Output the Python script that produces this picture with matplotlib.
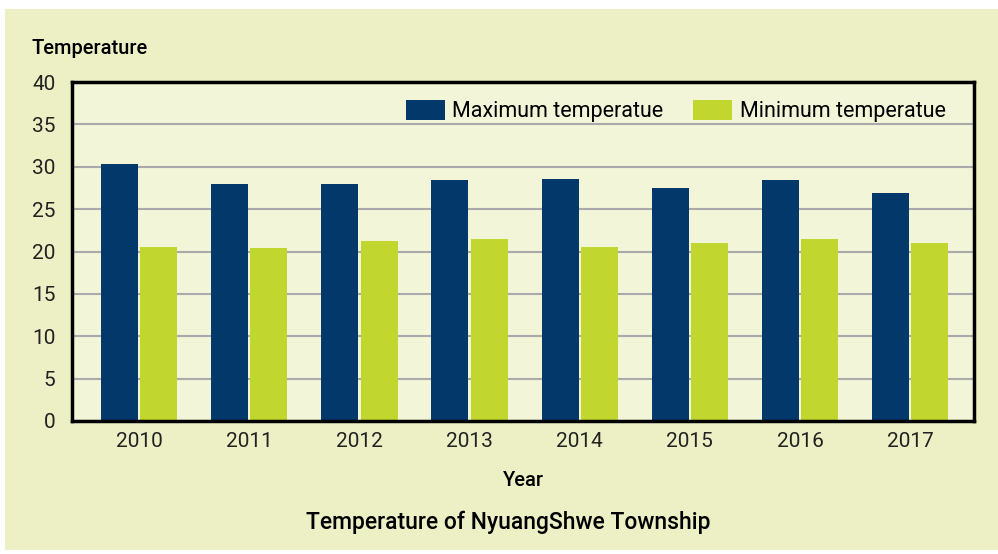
import matplotlib
matplotlib.use("Agg")
import matplotlib.pyplot as plt
import numpy as np
from matplotlib.patches import Rectangle

years = ["2010", "2011", "2012", "2013", "2014", "2015", "2016", "2017"]
max_temp = [30.3, 28.0, 28.0, 28.4, 28.6, 27.5, 28.4, 26.9]
min_temp = [20.5, 20.4, 21.2, 21.5, 20.5, 21.0, 21.5, 21.0]

navy = "#02386a"
lime = "#c1d72f"

plt.rcParams['font.family'] = ['Roboto', 'DejaVu Sans']

fig = plt.figure(figsize=(9.98, 5.54), dpi=100, facecolor="white")
# outer panel background
fig.patches.append(Rectangle((5 / 998, 4 / 554), 993 / 998, 541 / 554,
                             transform=fig.transFigure, facecolor="#edf0c5",
                             edgecolor="none", zorder=-1))

ax = fig.add_axes([72 / 998, 1 - 421 / 554, 902 / 998, 339 / 554])
ax.set_zorder(2)
ax.set_facecolor("#f2f5d7")

x = np.arange(len(years))
w = 0.336
ax.bar(x - w / 2 - 0.01, max_temp, w, color=navy, label="Maximum temperatue", zorder=3)
ax.bar(x + w / 2 + 0.01, min_temp, w, color=lime, label="Minimum temperatue", zorder=3)

ax.set_xlim(-0.61, 7.58)
ax.set_ylim(0, 40)
ax.set_yticks(range(0, 41, 5))
ax.set_xticks(x)
ax.set_xticklabels(years)
ax.tick_params(axis="both", length=0, labelsize=15, colors="#222222")
ax.tick_params(axis="y", pad=12)
ax.tick_params(axis="x", pad=8)
ax.yaxis.grid(True, color="#aaaaaa", linewidth=1.5, zorder=1)
for s in ax.spines.values():
    s.set_linewidth(2.5)
    s.set_color("black")
    s.set_zorder(4)

ax.set_xlabel("Year", fontsize=14.5, fontweight="medium", labelpad=14)
fig.text(32 / 998, 1 - 48 / 554, "Temperature", fontsize=14.5, fontweight="medium",
         va="center", ha="left")
fig.text(508 / 998, 1 - 522 / 554, "Temperature of NyuangShwe Township",
         fontsize=16.5, fontweight="medium", va="center", ha="center")

ax.legend(loc="upper right", ncol=2, frameon=False,
          handlelength=1.8, handleheight=1.1, columnspacing=1.4,
          handletextpad=0.35, bbox_to_anchor=(0.99, 1.005),
          prop={"size": 15.5})

fig.savefig("out.png", dpi=100, facecolor="white")
